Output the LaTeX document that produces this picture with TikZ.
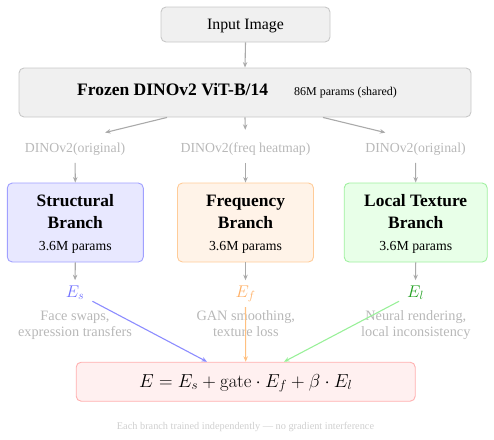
\documentclass[tikz,border=0pt]{standalone}
\usepackage{fix-cm}
\usepackage[no-math]{fontspec}
\setmainfont{Liberation Serif}
\usetikzlibrary{arrows.meta,calc}
\definecolor{grayfill}{HTML}{F0F0F0}
\definecolor{grayline}{HTML}{C8C8C8}
\definecolor{arrowgray}{HTML}{AAAAAA}
\definecolor{labgray}{HTML}{B8B8B8}
\definecolor{footgray}{HTML}{CFCFCF}
\definecolor{sfill}{HTML}{E8E8FF}
\definecolor{sline}{HTML}{A0A0FF}
\definecolor{ffill}{HTML}{FFF3E8}
\definecolor{fline}{HTML}{FFCC99}
\definecolor{lfill}{HTML}{E8FFE8}
\definecolor{lline}{HTML}{A0F0A0}
\definecolor{efill}{HTML}{FFF0F0}
\definecolor{eline}{HTML}{FFB0B0}
\definecolor{escol}{HTML}{7070FF}
\definecolor{efcol}{HTML}{FFB066}
\definecolor{elcol}{HTML}{22A022}
\definecolor{barr}{HTML}{8C8CFF}
\definecolor{oarr}{HTML}{FFC080}
\definecolor{garr}{HTML}{99F099}
\begin{document}
\begin{tikzpicture}[x=1pt,y=-1pt,
  box/.style={draw, rounded corners=5pt, line width=0.9pt, inner sep=0},
  txt/.style={inner sep=0, anchor=base},
  arr/.style={-{Stealth[length=5.5pt,width=4.5pt]}, line width=1.1pt, draw=arrowgray},
  ttl/.style={txt, font=\fontsize{17.4}{20}\selectfont\bfseries},
  prm/.style={txt, font=\fontsize{13.8}{16}\selectfont},
  lab/.style={txt, text=labgray, font=\fontsize{13.8}{16}\selectfont},
  dsc/.style={inner sep=0, anchor=base, text=labgray, align=center, font=\fontsize{14.3}{15.2}\selectfont},
  elab/.style={txt, font=\fontsize{17}{20}\selectfont},
]
\useasboundingbox (0,0) rectangle (494,439);

% input
\node[box, draw=grayline, fill=grayfill, minimum width=169pt, minimum height=35pt] (in) at (245.5,24.5) {};
\node[txt, font=\fontsize{15.8}{19}\selectfont] (intxt) at (245.5,29.5) {Input Image};

% frozen
\node[box, draw=grayline, fill=grayfill, minimum width=452pt, minimum height=49pt] (fr) at (245,92.5) {};
\node[txt, anchor=base west, font=\fontsize{17.5}{20}\selectfont\bfseries] (frt) at (77,95) {Frozen DINOv2 ViT-B/14};
\node[txt, anchor=base west, font=\fontsize{12}{14}\selectfont] (frp) at (294,95) {86M params (shared)};

% labels
\node[lab] (l1) at (75,152.7) {DINOv2(original)};
\node[lab] (l2) at (245.5,152.7) {DINOv2(freq heatmap)};
\node[lab] (l3) at (415.5,152.7) {DINOv2(original)};

% branches
\node[box, draw=sline, fill=sfill, minimum width=136pt, minimum height=79pt] (sb) at (75.3,222.5) {};
\node[box, draw=fline, fill=ffill, minimum width=136pt, minimum height=79pt] (fb) at (245.5,222.5) {};
\node[box, draw=lline, fill=lfill, minimum width=143pt, minimum height=79pt] (lb) at (415.7,222.5) {};
\node[ttl] (s1) at (75.3,206.5) {Structural};
\node[ttl] (s2) at (75.3,228) {Branch};
\node[prm] (s3) at (75.3,250) {3.6M params};
\node[ttl] (f1) at (245.5,206.5) {Frequency};
\node[ttl] (f2) at (245.5,228) {Branch};
\node[prm] (f3) at (245.5,250) {3.6M params};
\node[ttl] (t1) at (415.7,206.5) {Local Texture};
\node[ttl] (t2) at (415.7,228) {Branch};
\node[prm] (t3) at (415.7,250) {3.6M params};

% E labels
\node[elab, text=escol] (es) at (75,297) {$E_s$};
\node[elab, text=efcol] (ef) at (245.5,297) {$E_f$};
\node[elab, text=elcol] (el) at (415.5,297) {$E_l$};

% descriptions
\node[dsc] (d1) at (75,336) {Face swaps,\\expression transfers};
\node[dsc] (d2) at (245.8,336) {GAN smoothing,\\texture loss};
\node[dsc] (d3) at (415.8,336) {Neural rendering,\\local inconsistency};

% formula
\node[box, draw=eline, fill=efill, minimum width=339pt, minimum height=39pt] (fx) at (245.7,381.7) {};
\node[txt, font=\fontsize{18.8}{22}\selectfont] (fxt) at (245.7,387) {$E = E_s + \mathrm{gate}\cdot E_f + \beta\cdot E_l$};

% footer
\node[txt, text=footgray, font=\fontsize{10.3}{12}\selectfont] (foot) at (245.5,429) {Each branch trained independently --- no gradient interference};

% arrows
\draw[arr] (in.south) -- (fr.north);
\draw[arr, shorten >=31pt] ([xshift=-78pt]fr.south) -- ([yshift=3pt]l1.north);
\draw[arr, shorten >=10pt] (fr.south) -- ([yshift=3pt]l2.north);
\draw[arr, shorten >=31pt] ([xshift=78pt]fr.south) -- ([yshift=3pt]l3.north);
\draw[arr, shorten <=7pt] (l1.south) -- (sb.north);
\draw[arr, shorten <=7pt] (l2.south) -- (fb.north);
\draw[arr, shorten <=7pt] (l3.south) -- (lb.north);
\draw[arr, shorten >=5pt] (sb.south) -- (es.north);
\draw[arr, shorten >=5pt] (fb.south) -- (ef.north);
\draw[arr, shorten >=5pt] (lb.south) -- (el.north);
\draw[arr, draw=barr] ($(es.south east)+(8,1.5)$) -- ([xshift=-38.7pt]fx.north);
\draw[arr, draw=oarr, shorten <=5pt] (ef.south) -- (fx.north);
\draw[arr, draw=garr] ($(el.south west)+(-8,1.5)$) -- ([xshift=38.3pt]fx.north);
\end{tikzpicture}
\end{document}
